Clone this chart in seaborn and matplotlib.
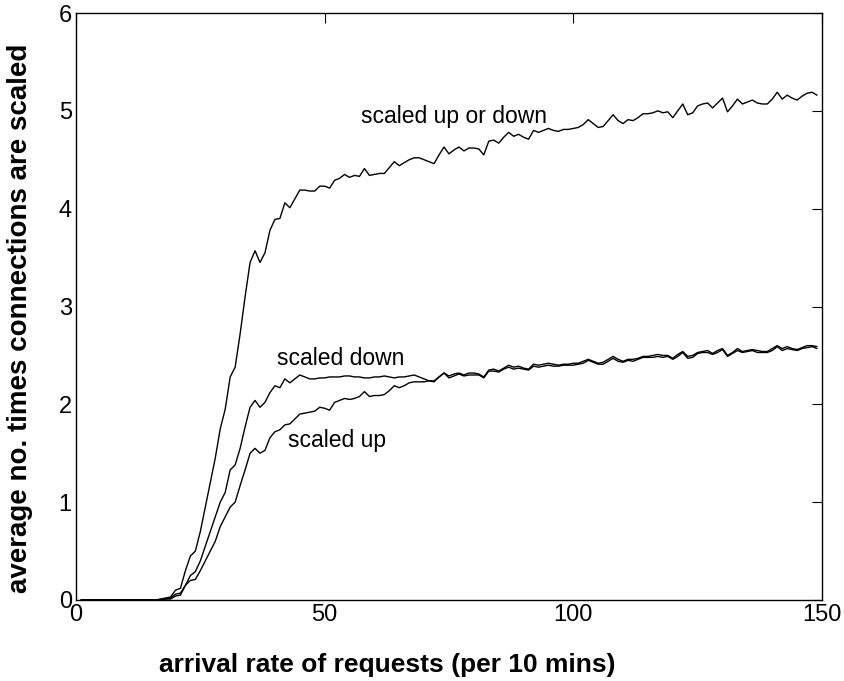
import numpy as np
import pandas as pd
import matplotlib
matplotlib.use("Agg")
import matplotlib.pyplot as plt
import seaborn as sns

# arrival rate (per 10 mins)
x_rate = list(range(1, 150))

zeros16 = [0.0] * 16

up_or_down = zeros16 + [
    0.01, 0.02, 0.03, 0.10, 0.12, 0.30, 0.45, 0.50, 0.70, 0.95,   # 17-26
    1.20, 1.45, 1.75, 1.95, 2.28, 2.38, 2.72, 3.10, 3.45, 3.57,   # 27-36
    3.45, 3.55, 3.78, 3.89, 3.90, 4.06, 4.01, 4.10, 4.19, 4.19,   # 37-46
    4.18, 4.18, 4.23, 4.23, 4.21, 4.29, 4.31, 4.35, 4.32, 4.34,   # 47-56
    4.33, 4.41, 4.34, 4.35, 4.36, 4.36, 4.42, 4.48, 4.44, 4.47,   # 57-66
    4.50, 4.52, 4.52, 4.50, 4.48, 4.46, 4.55, 4.63, 4.56, 4.60,   # 67-76
    4.63, 4.59, 4.62, 4.62, 4.61, 4.55, 4.69, 4.70, 4.67, 4.73,   # 77-86
    4.78, 4.74, 4.76, 4.73, 4.71, 4.80, 4.78, 4.80, 4.82, 4.80,   # 87-96
    4.79, 4.81, 4.81, 4.82, 4.83, 4.86, 4.91, 4.87, 4.83, 4.84,   # 97-106
    4.90, 4.96, 4.90, 4.87, 4.91, 4.90, 4.93, 4.97, 4.97, 4.98,   # 107-116
    5.00, 4.98, 4.99, 4.93, 5.00, 5.07, 4.96, 4.98, 5.05, 5.07,   # 117-126
    5.08, 5.03, 5.08, 5.13, 4.99, 5.05, 5.12, 5.07, 5.09, 5.11,   # 127-136
    5.08, 5.07, 5.07, 5.12, 5.19, 5.12, 5.16, 5.13, 5.11, 5.15,   # 137-146
    5.18, 5.19, 5.16]                                              # 147-149

scaled_down = zeros16 + [
    0.005, 0.01, 0.02, 0.06, 0.07, 0.15, 0.25, 0.29, 0.40, 0.55,  # 17-26
    0.70, 0.85, 1.00, 1.10, 1.33, 1.38, 1.55, 1.77, 1.97, 2.04,   # 27-36
    1.97, 2.02, 2.12, 2.19, 2.17, 2.26, 2.22, 2.26, 2.30, 2.28,   # 37-46
    2.26, 2.26, 2.27, 2.27, 2.28, 2.28, 2.28, 2.29, 2.29, 2.28,   # 47-56
    2.28, 2.27, 2.27, 2.28, 2.28, 2.29, 2.28, 2.27, 2.28, 2.28,   # 57-66
    2.29, 2.30, 2.28, 2.26, 2.24, 2.24, 2.28, 2.32, 2.29, 2.31,   # 67-76
    2.32, 2.30, 2.32, 2.32, 2.31, 2.28, 2.35, 2.36, 2.34, 2.37,   # 77-86
    2.40, 2.38, 2.39, 2.37, 2.36, 2.41, 2.40, 2.41, 2.42, 2.41,   # 87-96
    2.40, 2.41, 2.41, 2.42, 2.42, 2.44, 2.46, 2.44, 2.42, 2.43,   # 97-106
    2.46, 2.49, 2.46, 2.44, 2.46, 2.46, 2.47, 2.49, 2.49, 2.50,   # 107-116
    2.51, 2.50, 2.50, 2.47, 2.51, 2.54, 2.49, 2.50, 2.53, 2.54,   # 117-126
    2.55, 2.52, 2.55, 2.57, 2.50, 2.53, 2.57, 2.54, 2.55, 2.56,   # 127-136
    2.55, 2.54, 2.54, 2.57, 2.60, 2.57, 2.59, 2.57, 2.56, 2.58,   # 137-146
    2.60, 2.60, 2.59]                                              # 147-149

scaled_up = zeros16 + [
    0.005, 0.01, 0.01, 0.04, 0.05, 0.15, 0.20, 0.21, 0.30, 0.40,  # 17-26
    0.50, 0.60, 0.75, 0.85, 0.95, 1.00, 1.17, 1.33, 1.50, 1.55,   # 27-36
    1.50, 1.53, 1.66, 1.72, 1.74, 1.79, 1.80, 1.85, 1.90, 1.91,   # 37-46
    1.92, 1.93, 1.97, 1.96, 1.94, 2.02, 2.04, 2.06, 2.05, 2.06,   # 47-56
    2.08, 2.13, 2.08, 2.09, 2.09, 2.10, 2.14, 2.19, 2.17, 2.19,   # 57-66
    2.22, 2.23, 2.23, 2.23, 2.24, 2.23, 2.28, 2.32, 2.27, 2.29,   # 67-76
    2.31, 2.29, 2.30, 2.30, 2.30, 2.27, 2.34, 2.34, 2.33, 2.36,   # 77-86
    2.38, 2.36, 2.37, 2.36, 2.35, 2.39, 2.38, 2.39, 2.40, 2.39,   # 87-96
    2.39, 2.40, 2.40, 2.40, 2.41, 2.42, 2.45, 2.43, 2.41, 2.41,   # 97-106
    2.44, 2.47, 2.44, 2.43, 2.45, 2.44, 2.46, 2.48, 2.48, 2.48,   # 107-116
    2.49, 2.48, 2.49, 2.46, 2.49, 2.53, 2.47, 2.48, 2.52, 2.53,   # 117-126
    2.53, 2.51, 2.53, 2.56, 2.49, 2.52, 2.55, 2.53, 2.54, 2.55,   # 127-136
    2.53, 2.53, 2.53, 2.55, 2.59, 2.55, 2.57, 2.56, 2.55, 2.57,   # 137-146
    2.58, 2.59, 2.57]                                              # 147-149

series_names = ["scaled up or down", "scaled down", "scaled up"]
label_pos = {"scaled up or down": (57.3, 4.94),
             "scaled down": (40.4, 2.47),
             "scaled up": (42.6, 1.63)}

x_ticks = [0, 50, 100, 150]
y_ticks = [0, 1, 2, 3, 4, 5, 6]

df = pd.DataFrame({
    "rate": x_rate * 3,
    "value": up_or_down + scaled_down + scaled_up,
    "series": [series_names[0]] * len(x_rate)
              + [series_names[1]] * len(x_rate)
              + [series_names[2]] * len(x_rate),
})

sns.set_style("white")
plt.rcParams["font.family"] = ["Liberation Sans", "DejaVu Sans"]

fig = plt.figure(figsize=(8.44, 6.81), dpi=100)
ax = fig.add_axes([76 / 844, 1 - 600 / 681, (822 - 76) / 844, (600 - 13) / 681])

sns.lineplot(data=df, x="rate", y="value", hue="series",
             palette={n: "black" for n in series_names},
             linewidth=1.0, legend=False, ax=ax, estimator=None, sort=False)

for name, (tx, ty) in label_pos.items():
    ax.text(tx, ty, name, fontsize=16.5, ha="left", va="center", color="black")

ax.set_xlim(0, 150)
ax.set_ylim(0, 6)
ax.set_xticks(x_ticks)
ax.set_yticks(y_ticks)
ax.tick_params(direction="in", length=7, width=0.8, top=True, right=True,
               labelsize=17, colors="black", pad=3)
for s in ax.spines.values():
    s.set_visible(True)
    s.set_color("black")
    s.set_linewidth(1.0)

ax.set_xlabel("arrival rate of requests (per 10 mins)", fontsize=19,
              fontweight="bold", color="black")
ax.xaxis.label.set_va("center")
ax.xaxis.set_label_coords((387 - 76) / 746, (600 - 665) / 587)
ax.set_ylabel("average no. times connections are scaled", fontsize=20,
              fontweight="bold", color="black")
ax.yaxis.label.set_va("center")
ax.yaxis.set_label_coords((20 - 76) / 746, (600 - 318) / 587)

fig.savefig("out.png", dpi=100)
